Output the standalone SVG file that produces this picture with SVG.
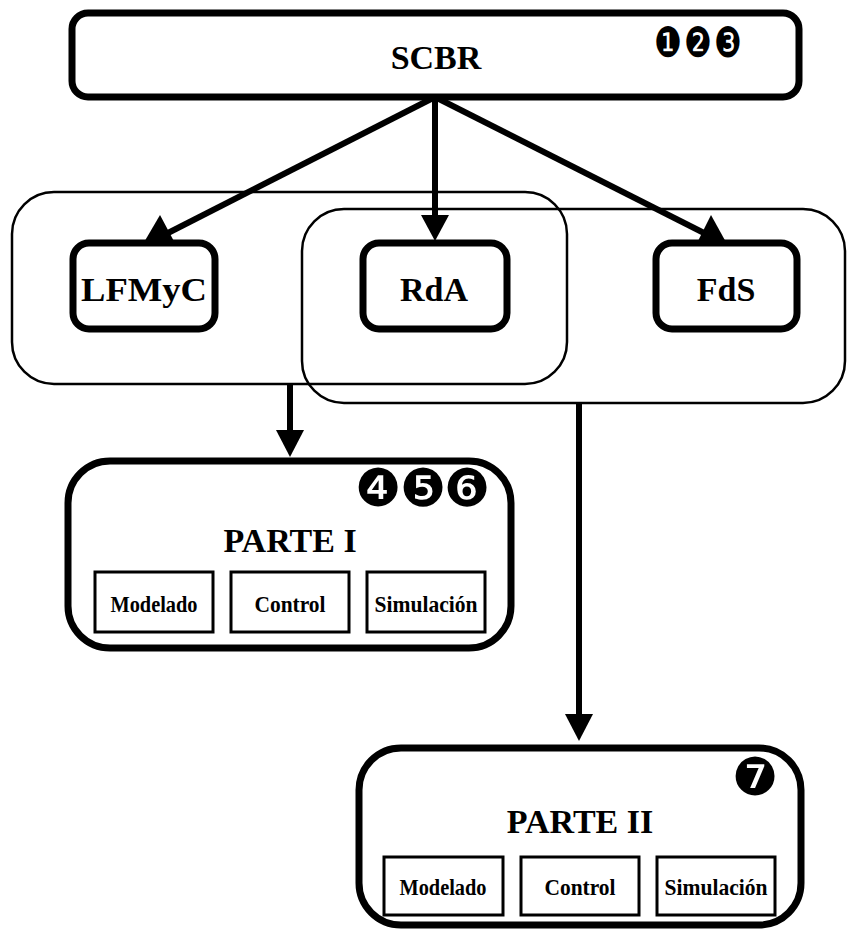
<svg xmlns="http://www.w3.org/2000/svg" width="847" height="931" viewBox="0 0 847 931">
  <style>
    .heavy { fill: #fff; stroke: #000; stroke-width: 7; }
    .group { fill: none; stroke: #000; stroke-width: 2.5; }
    .sub { fill: #fff; stroke: #000; stroke-width: 3; }
    .big { font-family: "Liberation Serif", "Times New Roman", serif; font-weight: bold; font-size: 34px; text-anchor: middle; fill: #000; }
    .small { font-family: "Liberation Serif", "Times New Roman", serif; font-weight: bold; font-size: 24px; text-anchor: middle; fill: #000; }
    .num { font-family: "DejaVu Sans", sans-serif; font-size: 52px; text-anchor: middle; fill: #000; }
    .wire { fill: none; stroke: #000; stroke-width: 6; }
    .head { fill: #000; stroke: none; }
  </style>

  <!-- group outlines behind everything -->
  <g id="groups">
    <rect id="group-left" class="group" x="12" y="192" width="555" height="192" rx="42" ry="42"/>
    <rect id="group-right" class="group" x="302" y="209" width="543" height="194" rx="42" ry="42"/>
  </g>

  <!-- connectors -->
  <g id="connectors">
    <line class="wire" x1="435" y1="97" x2="166" y2="234"/>
    <polygon class="head" points="143,244 160,215 177,247"/>
    <line class="wire" x1="435" y1="97" x2="435" y2="216"/>
    <polygon class="head" points="421,215 449,215 435,241"/>
    <line class="wire" x1="435" y1="97" x2="706" y2="234"/>
    <polygon class="head" points="727,244 711,215 695,247"/>
    <line class="wire" x1="290" y1="384" x2="290" y2="431"/>
    <polygon class="head" points="276,430 304,430 290,457"/>
    <line class="wire" x1="579" y1="403" x2="579" y2="715"/>
    <polygon class="head" points="565,714 593,714 579,741"/>
  </g>

  <g id="scbr">
    <rect class="heavy" x="72" y="13" width="727" height="84" rx="16" ry="16"/>
    <text class="big" x="436" y="69">SCBR</text>
    <g class="num" style="font-size:42px">
      <text transform="translate(668,57) scale(0.74,1)">❶</text>
      <text transform="translate(698,57) scale(0.74,1)">❷</text>
      <text transform="translate(728,57) scale(0.74,1)">❸</text>
    </g>
  </g>

  <g id="lfmyc">
    <rect class="heavy" x="73" y="243" width="142" height="86" rx="16" ry="16"/>
    <text class="big" x="144" y="301" textLength="126" lengthAdjust="spacingAndGlyphs">LFMyC</text>
  </g>

  <g id="rda">
    <rect class="heavy" x="363" y="243" width="144" height="86" rx="16" ry="16"/>
    <text class="big" x="434" y="301">RdA</text>
  </g>

  <g id="fds">
    <rect class="heavy" x="656" y="243" width="141" height="86" rx="16" ry="16"/>
    <text class="big" x="726" y="301">FdS</text>
  </g>

  <g id="parte-1">
    <rect class="heavy" x="68" y="461" width="443" height="187" rx="42" ry="42"/>
    <text class="num" x="378" y="506">❹</text>
    <text class="num" x="423" y="506">❺</text>
    <text class="num" x="467" y="506">❻</text>
    <text class="big" x="290" y="552">PARTE I</text>
    <rect class="sub" x="95" y="572" width="118" height="60"/>
    <text class="small" x="154" y="612" textLength="87" lengthAdjust="spacingAndGlyphs">Modelado</text>
    <rect class="sub" x="231" y="572" width="118" height="60"/>
    <text class="small" x="290" y="612" textLength="71" lengthAdjust="spacingAndGlyphs">Control</text>
    <rect class="sub" x="367" y="572" width="118" height="60"/>
    <text class="small" x="426" y="612" textLength="103" lengthAdjust="spacingAndGlyphs">Simulación</text>
  </g>

  <g id="parte-2">
    <rect class="heavy" x="359" y="748" width="442" height="177" rx="42" ry="42"/>
    <text class="num" x="755" y="795">❼</text>
    <text class="big" x="580" y="833">PARTE II</text>
    <rect class="sub" x="384" y="857" width="119" height="58"/>
    <text class="small" x="443" y="895" textLength="87" lengthAdjust="spacingAndGlyphs">Modelado</text>
    <rect class="sub" x="521" y="857" width="118" height="58"/>
    <text class="small" x="580" y="895" textLength="71" lengthAdjust="spacingAndGlyphs">Control</text>
    <rect class="sub" x="657" y="857" width="118" height="58"/>
    <text class="small" x="716" y="895" textLength="103" lengthAdjust="spacingAndGlyphs">Simulación</text>
  </g>
</svg>
